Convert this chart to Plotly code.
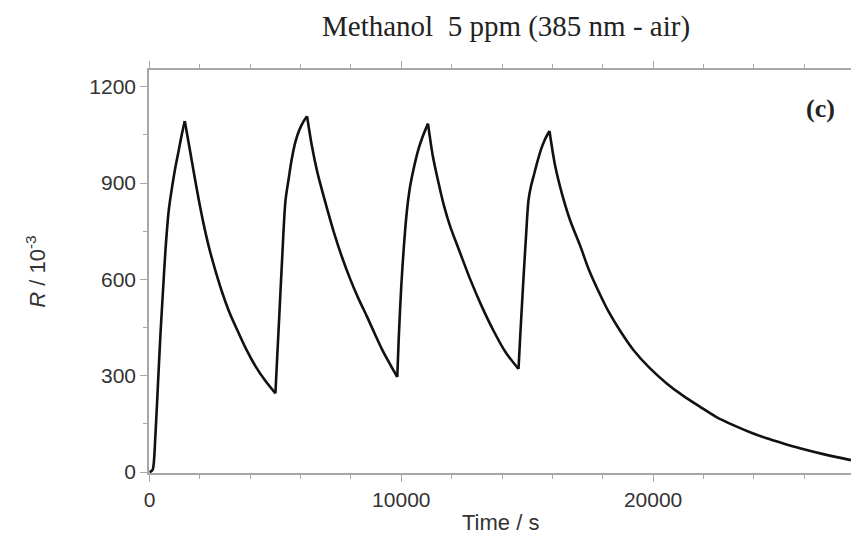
import plotly.graph_objects as go

# Response R (x10^-3) of the sensor to four methanol pulses (5 ppm, 385 nm, air)
time_s = [
    0, 60, 130, 238, 340, 437, 540, 635, 766, 900, 1030, 1163, 1280, 1401,
    1627, 1800, 1958, 2150, 2355, 2600, 2884, 3200, 3545, 3870, 4206, 4600, 5000,
    5066, 5150, 5265, 5400, 5530, 5650, 5800, 5950, 6100, 6257,
    6450, 6653, 7000, 7317, 7650, 7976, 8300, 8639, 8950, 9234, 9550, 9840,
    9900, 10000, 10100, 10226, 10330, 10425, 10550, 10700, 10850, 11060,
    11250, 11480, 11700, 11944, 12300, 12738, 13200, 13663, 14150, 14655,
    14722, 14850, 14950, 15052, 15150, 15250, 15400, 15550, 15700, 15885,
    16100, 16377, 16700, 17103, 17450, 17850, 18250, 18690, 19218, 19850,
    20540, 21200, 21865, 22500, 23187, 23850, 24510, 25170, 25833, 26800, 27857,
]
response = [
    0, 2, 8, 120, 280, 432, 570, 692, 816, 889, 950, 1003, 1050, 1093,
    993, 915, 847, 772, 702, 632, 560, 492, 432, 378, 330, 284, 245,
    349, 480, 660, 845, 915, 975, 1030, 1065, 1090, 1108,
    1015, 938, 835, 748, 668, 600, 540, 484, 430, 382, 336, 296,
    420, 580, 700, 816, 880, 920, 965, 1010, 1045, 1085,
    985, 900, 828, 764, 690, 600, 515, 440, 372, 321,
    421, 600, 730, 847, 890, 920, 965, 1005, 1035, 1062,
    958, 868, 785, 705, 630, 560, 497, 440, 380, 325,
    276, 237, 203, 172, 146, 124, 105, 89, 74, 55, 37,
]

x_ticks = [0, 10000, 20000]
x_tick_text = ["0", "10000", "20000"]
y_ticks = [0, 300, 600, 900, 1200]

title_text = "Methanol  5 ppm (385 nm - air)"
panel_tag = "<b>(c)</b>"

axis_grey = "#a8a8a8"
text_col = "#333333"
line_style = dict(color="#111111", width=2.6)

# split the trace at every turning point so each rise / decay is a smooth
# spline while the peaks and minima stay sharp
breaks = [0]
for i in range(1, len(response) - 1):
    if (response[i] - response[i - 1]) * (response[i + 1] - response[i]) < 0:
        breaks.append(i)
breaks.append(len(response) - 1)

fig = go.Figure()
for a, b in zip(breaks[:-1], breaks[1:]):
    fig.add_trace(
        go.Scatter(
            x=time_s[a:b + 1],
            y=response[a:b + 1],
            mode="lines",
            line=dict(**line_style, shape="spline", smoothing=0.8),
            hoverinfo="skip",
        )
    )

common_axis = dict(
    showgrid=False,
    zeroline=False,
    showline=True,
    linecolor=axis_grey,
    linewidth=1.6,
    ticks="outside",
    tickcolor=axis_grey,
    tickwidth=1.4,
    ticklen=7,
    tickfont=dict(family="Arial, Liberation Sans, sans-serif", size=21, color=text_col),
)

fig.update_xaxes(
    **common_axis,
    range=[-20, 27860],
    tickvals=x_ticks,
    ticktext=x_tick_text,
    mirror="ticks",
    minor=dict(dtick=2000, ticks="outside", ticklen=4, tickcolor=axis_grey, tickwidth=1),
)
fig.update_yaxes(
    **common_axis,
    range=[-3, 1252],
    tickvals=y_ticks,
    minor=dict(dtick=150, ticks="outside", ticklen=4, tickcolor=axis_grey, tickwidth=1),
)

fig.add_annotation(
    text=title_text, xref="paper", yref="paper", x=0.509, y=1.107,
    xanchor="center", yanchor="middle", showarrow=False,
    font=dict(family="Liberation Serif, Times New Roman, serif", size=29, color="#222222"),
)
fig.add_annotation(
    text=panel_tag, xref="paper", yref="paper", x=0.957, y=0.905,
    xanchor="center", yanchor="middle", showarrow=False,
    font=dict(family="Liberation Serif, Times New Roman, serif", size=26, color="#222222"),
)
fig.add_annotation(
    text="<i>R</i> / 10<sup>-3</sup>", xref="paper", yref="paper", x=-0.162, y=0.5,
    xanchor="center", yanchor="middle", textangle=-90, showarrow=False,
    font=dict(family="Arial, Liberation Sans, sans-serif", size=22, color=text_col),
)
fig.add_annotation(
    text="Time / s", xref="paper", yref="paper", x=0.5, y=-0.124,
    xanchor="center", yanchor="middle", showarrow=False,
    font=dict(family="Arial, Liberation Sans, sans-serif", size=22, color=text_col),
)

fig.update_layout(
    width=851,
    height=536,
    margin=dict(l=149, r=0, t=70, b=63),
    paper_bgcolor="white",
    plot_bgcolor="white",
    showlegend=False,
)

fig.write_html("out.html")
